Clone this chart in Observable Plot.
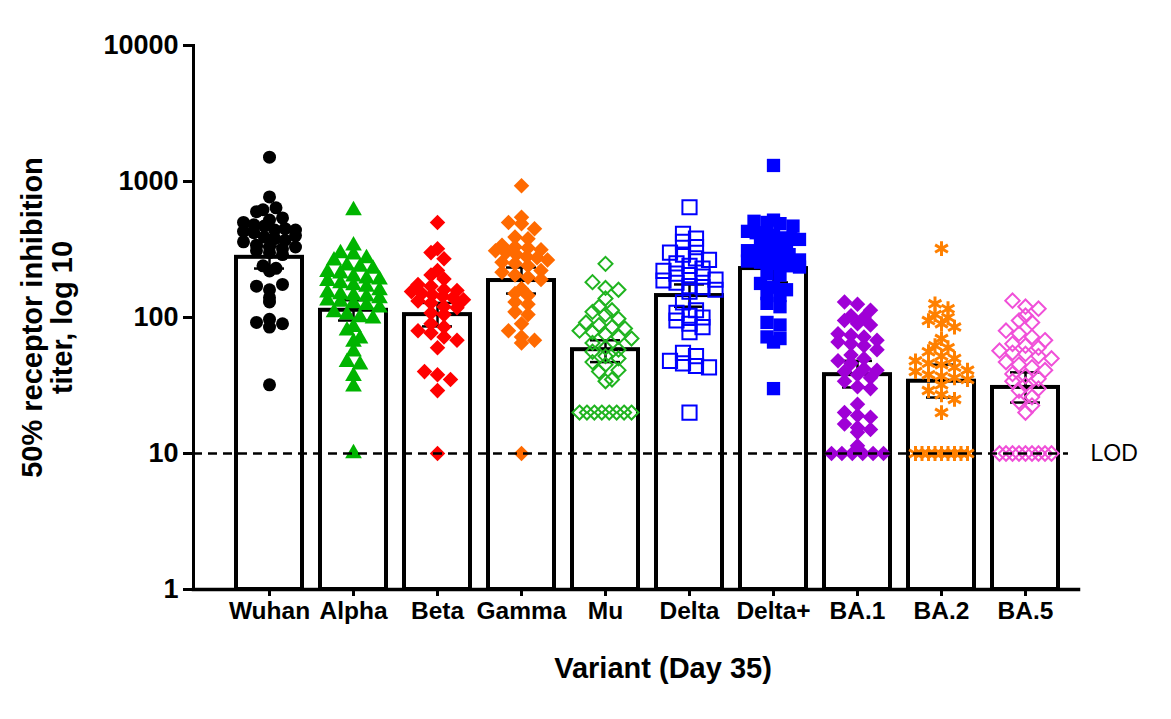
<!DOCTYPE html>
<html>
<head>
<meta charset="utf-8">
<script src="https://cdn.jsdelivr.net/npm/d3@7"></script>
<script src="https://cdn.jsdelivr.net/npm/@observablehq/plot@0.6"></script>
<style>
  html, body { margin: 0; padding: 0; background: #ffffff; }
  svg { display: block; }
</style>
</head>
<body>
<div id="chart"></div>
<script>
// ---------- data ----------
const variants = ["Wuhan", "Alpha", "Beta", "Gamma", "Mu", "Delta", "Delta+", "BA.1", "BA.2", "BA.5"];

const wuhan = [1510, 770, 620, 600, 640, 520, 500, 540, 480, 470, 440, 430, 450, 420, 440, 390, 380, 370, 400, 360,
  340, 330, 320, 310, 330, 300, 290, 240, 230, 220, 170, 160, 175, 140, 130, 97, 92, 85, 90, 32];
const alpha = [612, 338, 296, 290, 272, 262, 240, 235, 228, 215, 210, 200, 193, 190, 185, 178, 172, 168, 158, 152,
  148, 145, 142, 138, 133, 130, 127, 123, 118, 109, 105, 100, 98, 85, 80, 70, 66, 56, 47, 45, 37, 31, 10];
const beta = [500, 320, 300, 270, 222, 205, 192, 175, 170, 160, 158, 155, 150, 147, 143, 140, 135, 132, 128, 120,
  118, 108, 105, 90, 85, 80, 77, 72, 68, 60, 40, 38, 35, 29, 10];
const gamma = [930, 545, 500, 490, 450, 390, 380, 340, 330, 325, 315, 310, 300, 290, 280, 275, 265, 255, 250, 240,
  222, 215, 205, 198, 190, 163, 150, 145, 130, 125, 110, 105, 90, 80, 72, 68, 65, 10];
const mu = [248, 182, 165, 160, 138, 120, 113, 110, 105, 98, 92, 88, 85, 83, 80, 78, 75, 72, 70, 65,
  60, 58, 56, 52, 50, 47, 45, 41, 40, 35, 34, 20, 20, 20, 20, 20, 20, 20, 20];
const delta = [647, 413, 380, 360, 329, 300, 290, 272, 265, 250, 240, 229, 220, 210, 205, 200, 190, 187, 180, 170,
  167, 160, 155, 129, 113, 108, 103, 100, 95, 90, 85, 78, 55, 52, 48, 46, 44, 43, 20];
const deltaPlus = [1312, 520, 510, 500, 490, 470, 430, 420, 410, 400, 385, 380, 375, 340, 335, 330, 310, 305, 300, 295,
  290, 265, 260, 255, 250, 240, 235, 210, 205, 178, 167, 160, 150, 145, 127, 120, 92, 88, 72, 70, 66, 30];
const ba1 = [130, 125, 113, 103, 100, 95, 90, 88, 76, 74, 72, 68, 66, 64, 62, 58, 53, 50, 48, 46,
  42, 41, 40, 38, 36, 34, 31, 30, 23, 20, 19, 18.5, 16.5, 15.5, 15, 14.3, 11.4, 10, 10, 10, 10, 10, 10];
const ba2 = [321, 126, 116, 105, 100, 95, 90, 85, 70, 62, 60, 56, 52, 50, 48, 46, 45, 43, 41, 40,
  38, 37, 36, 35, 32, 29, 27, 25, 20, 10, 10, 10, 10, 10, 10, 10, 10, 10];
const ba5 = [133, 120, 116, 103, 95, 92, 80, 76, 72, 68, 64, 62, 60, 57, 55, 54, 52, 50, 47, 45,
  43, 41, 38.5, 37, 35.5, 34, 32, 30, 29, 26, 24, 22.5, 20, 10, 10, 10, 10, 10, 10, 10, 10, 10];

const barMeans = [277, 113, 105, 187, 58, 145, 229, 38, 34, 30.6];
const errLow   = [229, 95, 86, 150, 47, 120, 181, 30.6, 25.8, 23.7];
const errHigh  = [333, 134, 128, 233, 68, 175, 300, 48, 45, 39.5];

const yTicks = [1, 10, 100, 1000, 10000];
const lod = 10;

const yTitle = "50% receptor inhibition\ntiter, log 10";
const xTitle = "Variant (Day 35)";

// ---------- tables built from the arrays ----------
const series = [wuhan, alpha, beta, gamma, mu, delta, deltaPlus, ba1, ba2, ba5];
const barTable = variants.map((v, i) => ({variant: v, mean: barMeans[i], lo: errLow[i], hi: errHigh[i]}));

// ---------- marker styles ----------
const markerStyle = {
  "Wuhan":  {symbol: "circle",   r: 6.5, fill: "#000000", stroke: "none"},
  "Alpha":  {symbol: "triangle", r: 6.2, fill: "#00b400", stroke: "none"},
  "Beta":   {symbol: "diamond2", r: 7,   fill: "#ff0000", stroke: "none"},
  "Gamma":  {symbol: "diamond2", r: 7,   fill: "#ff6a00", stroke: "none"},
  "Mu":     {symbol: "diamond2", r: 6.3, fill: "none", stroke: "#20b420", strokeWidth: 2},
  "Delta":  {symbol: "square",   r: 8,   fill: "none", stroke: "#0000ff", strokeWidth: 2},
  "Delta+": {symbol: "square",   r: 7.5, fill: "#0000ff", stroke: "none"},
  "BA.1":   {symbol: "diamond2", r: 7,   fill: "#9f00d6", stroke: "none"},
  "BA.2":   {symbol: "asterisk", r: 7,   fill: "none", stroke: "#ff8000", strokeWidth: 3},
  "BA.5":   {symbol: "diamond2", r: 6.5, fill: "none", stroke: "#f050d8", strokeWidth: 2}
};

// GraphPad-like scatter: bin points by pixel y and spread each bin horizontally around the band centre
function swarm(variant, binH = 10, maxSp = 13, maxW = 52) {
  return (data, facets, channels, scales) => {
    const Y = Array.from(channels.y.value, (v) => scales.y(v));
    const cx = scales.x(variant); // Plot's band scale function yields the band centre here
    const X = new Float64Array(Y.length);
    for (const I of facets) {
      const bins = d3.group(Array.from(I), (i) => Math.floor(Y[i] / binH));
      for (const [, idx] of bins) {
        const n = idx.length;
        const sp = n > 1 ? Math.min(maxSp, maxW / (n - 1)) : 0;
        idx.forEach((i, k) => { X[i] = cx + (k - (n - 1) / 2) * sp; });
      }
    }
    return {data, facets, channels: {x: {value: X}}};
  };
}

const dotMarks = variants.map((v, i) => {
  const s = markerStyle[v];
  const pts = series[i].map((value) => ({variant: v, value}));
  return Plot.dot(pts, {
    y: "value",
    symbol: s.symbol,
    r: s.r,
    fill: s.fill,
    stroke: s.stroke,
    strokeWidth: s.strokeWidth ?? 1,
    initializer: swarm(v)
  });
});

const chart = Plot.plot({
  width: 1171,
  height: 719,
  marginLeft: 193,
  marginRight: 93,
  marginTop: 45,
  marginBottom: 130,
  style: {fontFamily: "'Liberation Sans', Arial, sans-serif", color: "#000", background: "#fff", overflow: "visible"},
  x: {type: "band", domain: variants, paddingInner: 0.2143, paddingOuter: 0.375, align: 0.683},
  y: {type: "log", domain: [1, 10000]},
  marks: [
    Plot.barY(barTable, {x: "variant", y1: 1, y2: "mean", fill: "#fff", stroke: "#000", strokeWidth: 4}),
    Plot.ruleX(barTable, {x: "variant", y1: "lo", y2: "hi", stroke: "#000", strokeWidth: 2.5}),
    Plot.tickY(barTable, {x: "variant", y: "lo", stroke: "#000", strokeWidth: 2.5, insetLeft: 18, insetRight: 18}),
    Plot.tickY(barTable, {x: "variant", y: "hi", stroke: "#000", strokeWidth: 2.5, insetLeft: 18, insetRight: 18}),
    ...dotMarks,
    Plot.ruleY([lod], {y: (d) => d, stroke: "#000", strokeWidth: 2.5, strokeDasharray: "9,6", insetRight: 10}),
    Plot.frame({anchor: "left", stroke: "#000", strokeWidth: 3}),
    Plot.frame({anchor: "bottom", stroke: "#000", strokeWidth: 3.5}),
    Plot.axisY(yTicks, {tickFormat: (d) => String(d), tickSize: 10, tickPadding: 5, strokeWidth: 3,
      fontSize: 27, fontWeight: "bold", label: null}),
    Plot.axisX({tickSize: 7, tickPadding: 5, strokeWidth: 3, fontSize: 24.5, fontWeight: "bold", label: null}),
    Plot.text([lod], {y: (d) => d, text: () => "LOD", frameAnchor: "right", textAnchor: "start", dx: 12, fontSize: 23}),
    Plot.text([yTitle], {text: (d) => d, frameAnchor: "left", textAnchor: "middle", rotate: -90, dx: -146,
      fontSize: 29, fontWeight: "bold", lineHeight: 1.05}),
    Plot.text([xTitle], {text: (d) => d, frameAnchor: "bottom", textAnchor: "middle", dx: 27, dy: 88,
      fontSize: 29, fontWeight: "bold"})
  ]
});

document.getElementById("chart").appendChild(chart);
</script>
</body>
</html>
